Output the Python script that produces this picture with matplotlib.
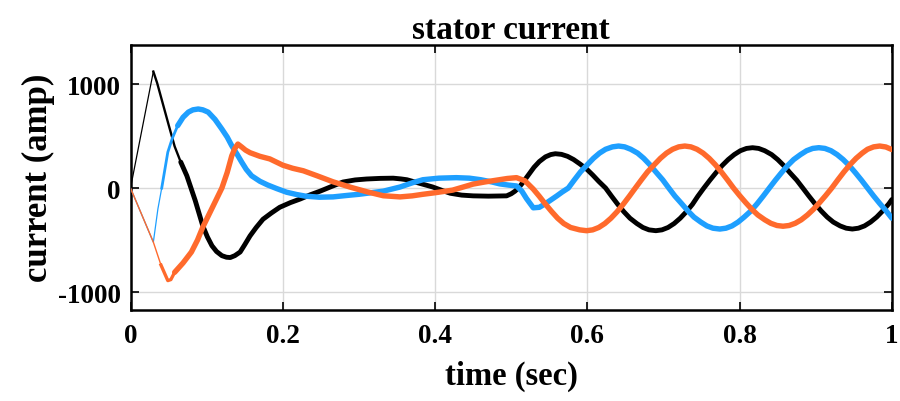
import numpy as np
import matplotlib.pyplot as plt

# three-phase stator current (A) vs time (s)
t_a = [0.0, 0.030, 0.035, 0.041, 0.050, 0.058, 0.066, 0.074, 0.085, 0.095, 0.101,
       0.107, 0.113, 0.120, 0.126, 0.131, 0.137, 0.144, 0.150, 0.157, 0.165, 0.174,
       0.185, 0.196, 0.210, 0.223, 0.236, 0.249, 0.264, 0.279, 0.295, 0.310, 0.328,
       0.345, 0.355, 0.363, 0.380, 0.397, 0.410, 0.420, 0.435, 0.450, 0.470, 0.494,
       0.500, 0.505, 0.510, 0.515, 0.522, 0.530, 0.537, 0.545, 0.552,
       0.558, 0.566, 0.574, 0.582, 0.590, 0.599, 0.607, 0.615, 0.624,
       0.632, 0.640, 0.648, 0.656, 0.665, 0.673, 0.681, 0.690,
       0.698, 0.706, 0.714, 0.722, 0.730, 0.738, 0.745, 0.753,
       0.761, 0.769, 0.777, 0.785, 0.793, 0.801, 0.809, 0.817,
       0.825, 0.833, 0.842, 0.850, 0.858, 0.866, 0.875, 0.883,
       0.891, 0.899, 0.907, 0.915, 0.923, 0.932, 0.940, 0.948,
       0.956, 0.964, 0.972, 0.980, 0.988, 0.996, 1.0]
i_a = [0, 1120, 1010, 850, 610, 400, 250, 118, -120, -365, -470,
       -555, -610, -650, -665, -668, -650, -615, -545, -460, -380, -300,
       -240, -185, -140, -105, -65, -30, 15, 58, 78, 87, 93,
       95, 88, 80, 45, 10, -25, -50, -68, -75, -78, -75,
       -55, -30, 5, 50, 120, 200, 255, 300, 322,
       330, 324, 305, 274, 233, 183, 126, 64, 0,
       -80, -157, -228, -290, -341, -379, -402, -410,
       -402, -379, -341, -290, -228, -157, -80, 0,
       76, 148, 216, 274, 322, 359, 381, 388,
       381, 359, 322, 274, 216, 148, 76, 0,
       -77, -151, -219, -279, -327, -364, -386, -394,
       -386, -364, -327, -279, -219, -151, -110]

t_b = [0.0, 0.030, 0.036, 0.041, 0.049, 0.055, 0.062, 0.069, 0.076, 0.082, 0.089,
       0.095, 0.102, 0.111, 0.120, 0.127, 0.133, 0.140, 0.146, 0.152, 0.159, 0.170,
       0.180, 0.192, 0.205, 0.218, 0.230, 0.248, 0.266, 0.283, 0.300, 0.316, 0.332,
       0.343, 0.354, 0.370, 0.384, 0.405, 0.428, 0.445, 0.460, 0.475, 0.485, 0.497,
       0.507, 0.514, 0.520, 0.529, 0.537, 0.545, 0.553, 0.560, 0.567, 0.575,
       0.583, 0.591, 0.600, 0.608, 0.616, 0.624, 0.633, 0.641,
       0.649, 0.657, 0.666, 0.674, 0.682, 0.690, 0.699, 0.707,
       0.715, 0.724, 0.732, 0.740, 0.749, 0.757, 0.765, 0.774,
       0.782, 0.790, 0.798, 0.806, 0.815, 0.823, 0.831, 0.839,
       0.847, 0.855, 0.863, 0.871, 0.880, 0.888, 0.896, 0.904,
       0.912, 0.920, 0.928, 0.936, 0.944, 0.952, 0.960, 0.968,
       0.976, 0.984, 0.992, 1.0]
i_b = [0, -520, -200, 0, 345, 480, 600, 680, 730, 752, 760,
       752, 730, 660, 567, 490, 407, 325, 250, 180, 118, 65,
       30, -5, -40, -62, -78, -88, -85, -72, -60, -45, -30,
       -10, 10, 50, 80, 95, 100, 95, 80, 58, 40, 28,
       20, -30, -100, -190, -185, -150, -110, -75, -38, 0,
       79, 155, 225, 286, 336, 373, 396, 404,
       396, 373, 336, 286, 225, 155, 79, 0,
       -77, -151, -219, -279, -327, -364, -386, -394,
       -386, -364, -327, -279, -219, -151, -77, 0,
       76, 148, 216, 274, 322, 359, 381, 388,
       381, 359, 322, 274, 216, 148, 76, 0,
       -76, -148, -216, -290]

t_c = [0.0, 0.030, 0.040, 0.049, 0.053, 0.058, 0.069, 0.080, 0.088, 0.095, 0.102,
       0.110, 0.120, 0.127, 0.133, 0.137, 0.141, 0.146, 0.151, 0.157, 0.170, 0.183,
       0.200, 0.213, 0.227, 0.245, 0.266, 0.288, 0.310, 0.332, 0.354, 0.370, 0.384,
       0.400, 0.423, 0.437, 0.450, 0.465, 0.480, 0.495, 0.507, 0.518, 0.529,
       0.537, 0.545, 0.553, 0.561, 0.569, 0.578, 0.590, 0.599,
       0.607, 0.615, 0.623, 0.631, 0.639, 0.647, 0.655, 0.663,
       0.671, 0.679, 0.688, 0.696, 0.704, 0.712, 0.720, 0.728,
       0.736, 0.744, 0.752, 0.760, 0.768, 0.776, 0.784, 0.792,
       0.800, 0.808, 0.816, 0.824, 0.833, 0.841, 0.849, 0.857,
       0.865, 0.873, 0.881, 0.889, 0.897, 0.905, 0.913, 0.921,
       0.929, 0.937, 0.945, 0.953, 0.961, 0.968, 0.976, 0.984,
       0.992, 1.0]
i_c = [0, -520, -740, -890, -880, -810, -720, -615, -500, -375, -270,
       -150, 0, 150, 310, 380, 423, 395, 365, 340, 305, 280,
       220, 190, 166, 118, 60, 10, -35, -74, -85, -75, -60,
       -45, -20, 10, 38, 58, 75, 92, 100, 70, -10,
       -80, -155, -225, -290, -341, -379, -402, -410,
       -402, -379, -341, -290, -228, -157, -80, 0,
       79, 155, 225, 286, 336, 373, 396, 404,
       396, 373, 336, 286, 225, 155, 79, 0,
       -72, -140, -204, -259, -305, -339, -360, -367,
       -360, -339, -305, -259, -204, -140, -72, 0,
       79, 155, 225, 286, 336, 373, 396, 404,
       395, 370]

x_ticks = [0, 0.2, 0.4, 0.6, 0.8, 1]
x_labels = ['0', '0.2', '0.4', '0.6', '0.8', '1']
y_ticks = [-1000, 0, 1000]

col_a = 'black'
col_b = '#1E9FFF'
col_c = '#FF6A2C'

plt.rcParams['font.family'] = ['Liberation Serif', 'DejaVu Serif']
plt.rcParams['font.weight'] = 'bold'
plt.rcParams['axes.unicode_minus'] = False

fig = plt.figure(figsize=(9, 4.02), dpi=100)
ax = fig.add_axes([0.145, 0.2275, 0.846, 0.658])

# thin start-up section, then the thicker ripple band
ax.plot(t_a[:2], i_a[:2], color=col_a, lw=0.9, zorder=3)
ax.plot(t_a[1:7], i_a[1:7], color=col_a, lw=1.7, zorder=3)
ax.plot(t_a[6:], i_a[6:], color=col_a, lw=3.5, zorder=3,
        solid_joinstyle='round', solid_capstyle='round')

ax.plot(t_b[:4], i_b[:4], color=col_b, lw=0.9, zorder=4)
ax.plot(t_b[3:7], i_b[3:7], color=col_b, lw=2.0, zorder=4)
ax.plot(t_b[6:], i_b[6:], color=col_b, lw=3.9, zorder=4,
        solid_joinstyle='round', solid_capstyle='round')

ax.plot(t_c[:3], i_c[:3], color=col_c, lw=1.0, zorder=5)
ax.plot(t_c[2:6], i_c[2:6], color=col_c, lw=2.4, zorder=5,
        solid_joinstyle='round')
ax.plot(t_c[5:], i_c[5:], color=col_c, lw=3.9, zorder=5,
        solid_joinstyle='round', solid_capstyle='round')

ax.set_xlim(0, 1)
ax.set_ylim(-1168, 1375)
ax.set_xticks(x_ticks)
ax.set_xticklabels(x_labels)
ax.set_yticks(y_ticks)
ax.grid(True, color='#d9d9d9', lw=1.0)
ax.set_axisbelow(True)

ax.tick_params(direction='in', length=6, width=1.2, top=True, right=True,
               labelsize=19.5)
ax.tick_params(axis='x', pad=10)
ax.tick_params(axis='y', pad=7)
for lab in ax.get_xticklabels() + ax.get_yticklabels():
    lab.set_fontweight('bold')
for sp in ax.spines.values():
    sp.set_linewidth(1.8)

ax.set_title('stator current', fontsize=24, fontweight='bold', pad=5)
ax.set_xlabel('time (sec)', fontsize=23.5, fontweight='bold', labelpad=8)
ax.set_ylabel('current (amp)', fontsize=25, fontweight='bold', labelpad=2)

fig.savefig('out.png', dpi=100)
